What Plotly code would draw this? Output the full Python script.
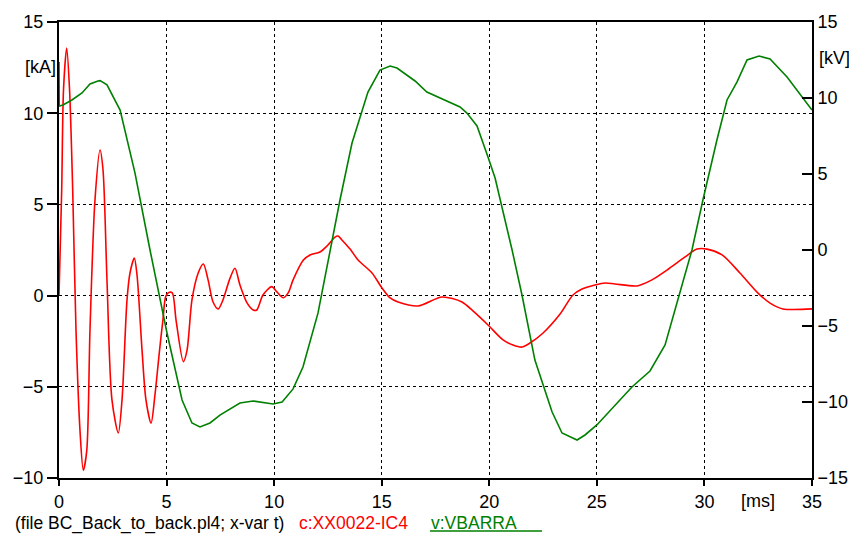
import plotly.graph_objects as go

# ---- data ----
t_ic4 = [0.0, 0.125, 0.21, 0.358, 0.49, 0.637, 0.79, 0.976, 1.13, 1.29, 1.44, 1.67, 1.906, 2.045,
         2.23, 2.46, 2.756, 2.93, 3.16, 3.30, 3.5, 3.626, 3.86, 4.04, 4.28, 4.46, 4.66, 4.83, 4.97,
         5.13, 5.27, 5.44, 5.78, 5.95, 6.18, 6.47, 6.71, 6.93, 7.16, 7.40, 7.62, 7.95, 8.18, 8.41,
         8.74, 9.03, 9.19, 9.48, 9.89, 10.13, 10.43, 10.66, 10.88, 11.36, 11.67, 12.13, 12.46,
         12.83, 12.97, 13.15, 13.53, 13.9, 14.55, 15.01, 15.39, 15.76, 16.69, 17.8, 18.73, 19.24,
         19.94, 20.64, 21.1, 21.52, 21.89, 22.5, 23.29, 23.89, 24.31, 24.91, 25.38, 25.84, 26.87,
         27.56, 28.26, 29.1, 29.65, 30.12, 30.82, 31.65, 32.49, 33.05, 33.65, 35.0]
ic4_kA = [0.0, 5.79, 11.3, 13.57, 11.3, 5.79, -1.9, -7.4, -9.57, -8.5, -1.9, 5.2, 7.98, 6.9,
          0.86, -5.7, -7.53, -5.7, -0.25, 1.24, 2.06, 1.13, -3.0, -5.7, -6.99, -5.45, -3.15, -1.34,
          -0.02, 0.18, 0.14, -1.34, -3.62, -3.0, -0.24, 1.24, 1.73, 0.86, -0.35, -0.73, -0.24, 0.96,
          1.5, 0.58, -0.4, -0.79, -0.79, 0.03, 0.49, 0.2, -0.12, 0.16, 0.86, 1.95, 2.23, 2.39, 2.72,
          3.21, 3.27, 3.05, 2.55, 1.95, 1.24, 0.42, -0.13, -0.35, -0.57, -0.08, -0.35, -0.84,
          -1.61, -2.43, -2.71, -2.82, -2.6, -2.05, -1.01, 0.03, 0.36, 0.58, 0.69, 0.64, 0.53,
          0.86, 1.4, 2.12, 2.55, 2.55, 2.23, 1.24, 0.14, -0.41, -0.73, -0.73]

t_vbarra = [0.0, 0.01, 0.186, 0.60, 1.07, 1.44, 1.81, 1.91, 2.23, 2.51, 2.84, 3.53, 4.23, 5.02,
            5.72, 6.18, 6.55, 7.02, 7.48, 8.41, 9.02, 9.95, 10.37, 10.88, 11.34, 12.04, 12.6,
            13.06, 13.62, 14.08, 14.36, 14.92, 15.39, 15.71, 16.55, 17.1, 18.64, 18.96, 19.43,
            19.94, 20.27, 21.06, 21.52, 22.12, 22.92, 23.38, 24.08, 24.45, 25.0, 26.63, 27.47,
            28.17, 28.77, 29.42, 29.93, 30.58, 31.05, 31.51, 31.98, 32.54, 33.05, 33.84, 35.0]
vbarra_kV = [12.37, 9.47, 9.54, 9.87, 10.33, 10.92, 11.12, 11.14, 10.86, 10.07, 9.21, 5.07, 0.0,
             -5.46, -9.87, -11.38, -11.64, -11.38, -10.86, -10.07, -9.93, -10.13, -10.0, -9.14,
             -7.7, -4.14, 0.0, 3.29, 7.04, 9.21, 10.39, 11.84, 12.1, 11.97, 11.12, 10.39, 9.41,
             9.01, 8.16, 6.12, 4.74, 0.0, -2.96, -7.24, -10.66, -12.04, -12.5, -12.17, -11.51,
             -9.01, -7.96, -6.25, -3.29, 0.0, 3.29, 7.24, 9.87, 11.05, 12.5, 12.76, 12.57, 11.38,
             9.21]

x_ticks = [0, 5, 10, 15, 20, 25, 30, 35]
y_left_ticks = [-10, -5, 0, 5, 10, 15]
y_right_ticks = [-15, -10, -5, 0, 5, 10, 15]

FONT = "Liberation Sans, Arial, sans-serif"

fig = go.Figure()
fig.add_trace(go.Scatter(x=t_ic4, y=ic4_kA, mode="lines", name="c:XX0022-IC4",
                         line=dict(color="#ff0000", width=1.6, shape="spline", smoothing=0.8)))
fig.add_trace(go.Scatter(x=t_vbarra, y=vbarra_kV, mode="lines", name="v:VBARRA", yaxis="y2",
                         line=dict(color="#008000", width=1.6)))

axis_common = dict(showline=True, linecolor="black", linewidth=2, tickcolor="black",
                   tickwidth=1.5, zeroline=False, automargin=False,
                   tickfont=dict(family=FONT, size=18, color="black"))

fig.update_layout(
    width=849, height=535,
    margin=dict(l=59, r=37, t=22, b=57, autoexpand=False),
    paper_bgcolor="white", plot_bgcolor="white",
    showlegend=False,
    font=dict(family=FONT, size=18, color="black"),
    xaxis=dict(range=[0, 35], tickvals=x_ticks, ticks="outside", ticklen=6, mirror=True,
               showgrid=True, gridcolor="black", griddash="dot", gridwidth=1, **axis_common),
    yaxis=dict(range=[-10, 15], tickvals=y_left_ticks, ticks="outside", ticklen=10,
               showgrid=True, gridcolor="black", griddash="dot", gridwidth=1, **axis_common),
    yaxis2=dict(range=[-15, 15], tickvals=y_right_ticks, ticks="inside", ticklen=10,
                overlaying="y", side="right", showgrid=False, **axis_common),
)

ann = dict(xref="paper", yref="paper", showarrow=False, yanchor="middle", xanchor="left")
fig.add_annotation(text="[kA]", x=(23 - 59) / 753, y=(478 - 67) / 456,
                   font=dict(family=FONT, size=18, color="black"), **ann)
fig.add_annotation(text="[kV]", x=(817 - 59) / 753, y=(478 - 58) / 456,
                   font=dict(family=FONT, size=18, color="black"), **ann)
fig.add_annotation(text="[ms]", x=(739 - 59) / 753, y=(478 - 501) / 456,
                   font=dict(family=FONT, size=18, color="black"), **ann)
fig.add_annotation(text="(file BC_Back_to_back.pl4; x-var t)", x=(13 - 59) / 753,
                   y=(478 - 523) / 456, font=dict(family=FONT, size=17.5, color="black"), **ann)
fig.add_annotation(text="c:XX0022-IC4", x=(297 - 59) / 753, y=(478 - 523) / 456,
                   font=dict(family=FONT, size=17.5, color="#ff0000"), **ann)
fig.add_annotation(text="v:VBARRA", x=(429 - 59) / 753, y=(478 - 523) / 456,
                   font=dict(family=FONT, size=17.5, color="#008000"), **ann)
fig.add_shape(type="line", xref="paper", yref="paper",
              x0=(430 - 59) / 753, x1=(542 - 59) / 753,
              y0=(478 - 531) / 456, y1=(478 - 531) / 456,
              line=dict(color="#008000", width=1.5))

fig.write_html("out.html")
